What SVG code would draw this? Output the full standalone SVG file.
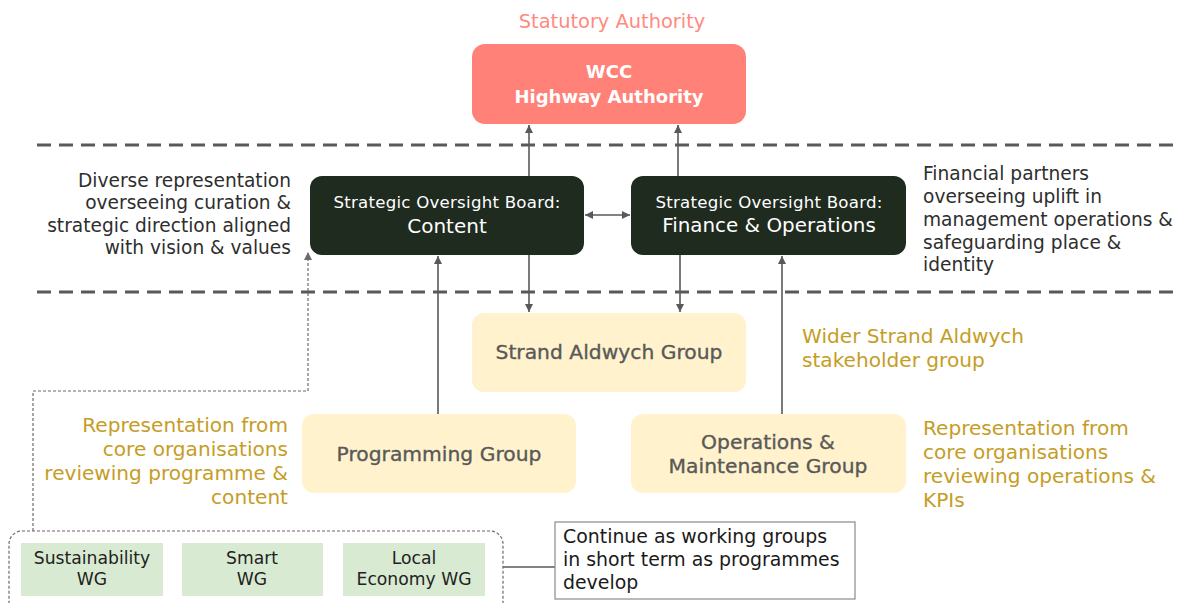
<svg xmlns="http://www.w3.org/2000/svg" width="1189" height="603" viewBox="0 0 1189 603">
  <defs>
    <marker id="arrow" viewBox="0 0 10 10" refX="10" refY="5" markerWidth="8" markerHeight="8" markerUnits="userSpaceOnUse" orient="auto-start-reverse">
      <path d="M0,0 L10,5 L0,10 z" fill="#595959"/>
    </marker>
    <marker id="arrow-dot" viewBox="0 0 10 10" refX="10" refY="5" markerWidth="8" markerHeight="8" markerUnits="userSpaceOnUse" orient="auto">
      <path d="M0,0 L10,5 L0,10 z" fill="#6b6b6b"/>
    </marker>
  </defs>
  <style>
    text { font-family: "DejaVu Sans", "Noto Sans", "Liberation Sans", sans-serif; }
    .tier { stroke: #595959; stroke-width: 3; stroke-dasharray: 14 8; fill: none; }
    .link { stroke: #595959; stroke-width: 1.6; fill: none; }
    .dotted { stroke: #6b6b6b; stroke-width: 1.2; stroke-dasharray: 3 2; fill: none; }
    .authority { fill: #FF8178; }
    .board { fill: #1F2B1F; }
    .group { fill: #FFF2CC; }
    .wg { fill: #D9EAD3; }
    .t-white { fill: #ffffff; text-anchor: middle; }
    .t-group { fill: #595959; stroke: #595959; stroke-width: 0.35; font-size: 20.3px; text-anchor: middle; }
    .t-desc { fill: #2E2E2E; font-size: 18.6px; }
    .t-gold { fill: #C59D25; font-size: 20.1px; }
    .t-wg { fill: #222222; font-size: 17.2px; text-anchor: middle; }
    .t-note { fill: #1a1a1a; font-size: 18.9px; }
  </style>

  <!-- tier separators -->
  <g id="tiers">
    <line class="tier" x1="37" y1="145" x2="1180" y2="145"/>
    <line class="tier" x1="37" y1="292" x2="1180" y2="292"/>
  </g>

  <!-- connectors -->
  <g id="connectors">
    <line class="link" x1="529" y1="176" x2="529" y2="125" marker-end="url(#arrow)"/>
    <line class="link" x1="678" y1="176" x2="678" y2="125" marker-end="url(#arrow)"/>
    <line class="link" x1="585" y1="215" x2="630" y2="215" marker-start="url(#arrow)" marker-end="url(#arrow)"/>
    <line class="link" x1="529" y1="255" x2="529" y2="312" marker-end="url(#arrow)"/>
    <line class="link" x1="680" y1="255" x2="680" y2="312" marker-end="url(#arrow)"/>
    <line class="link" x1="438" y1="414" x2="438" y2="256" marker-end="url(#arrow)"/>
    <line class="link" x1="782" y1="414" x2="782" y2="256" marker-end="url(#arrow)"/>
    <polyline class="dotted" points="33,531 33,391 308,391 308,252" marker-end="url(#arrow-dot)"/>
    <line class="link" stroke-width="1" x1="503" y1="567" x2="555" y2="567"/>
  </g>

  <!-- statutory authority -->
  <g id="wcc">
    <text x="612" y="28" font-size="19.4" fill="#FF8A80" text-anchor="middle">Statutory Authority</text>
    <rect class="authority" x="472" y="44" width="274" height="80" rx="13"/>
    <text class="t-white" x="609" y="78" font-size="18" font-weight="700">WCC</text>
    <text class="t-white" x="609" y="103" font-size="18" font-weight="700">Highway Authority</text>
  </g>

  <!-- strategic oversight boards -->
  <g id="board-content">
    <rect class="board" x="310" y="176" width="274" height="79" rx="12"/>
    <text class="t-white" x="447" y="208" font-size="16.6" style="letter-spacing:0.25px">Strategic Oversight Board:</text>
    <text class="t-white" x="447" y="233" font-size="20">Content</text>
  </g>
  <g id="board-finance">
    <rect class="board" x="631" y="176" width="275" height="79" rx="12"/>
    <text class="t-white" x="769" y="208" font-size="16.6" style="letter-spacing:0.25px">Strategic Oversight Board:</text>
    <text class="t-white" x="769" y="232" font-size="19.9">Finance &amp; Operations</text>
  </g>

  <g id="note-content">
    <text class="t-desc" text-anchor="end" x="291" y="187">Diverse representation</text>
    <text class="t-desc" text-anchor="end" x="291" y="209">overseeing curation &amp;</text>
    <text class="t-desc" text-anchor="end" x="291" y="232">strategic direction aligned</text>
    <text class="t-desc" text-anchor="end" x="291" y="254">with vision &amp; values</text>
  </g>
  <g id="note-finance">
    <text class="t-desc" x="923" y="180">Financial partners</text>
    <text class="t-desc" x="923" y="203">overseeing uplift in</text>
    <text class="t-desc" x="923" y="226">management operations &amp;</text>
    <text class="t-desc" x="923" y="249">safeguarding place &amp;</text>
    <text class="t-desc" x="923" y="271">identity</text>
  </g>

  <!-- groups -->
  <g id="strand-aldwych">
    <rect class="group" x="472" y="313" width="274" height="79" rx="12"/>
    <text class="t-group" x="609" y="359">Strand Aldwych Group</text>
  </g>
  <g id="note-strand">
    <text class="t-gold" x="802" y="343">Wider Strand Aldwych</text>
    <text class="t-gold" x="802" y="367">stakeholder group</text>
  </g>

  <g id="programming">
    <rect class="group" x="302" y="414" width="274" height="79" rx="12"/>
    <text class="t-group" x="439" y="461">Programming Group</text>
  </g>
  <g id="note-programming">
    <text class="t-gold" text-anchor="end" x="288" y="432">Representation from</text>
    <text class="t-gold" text-anchor="end" x="288" y="456">core organisations</text>
    <text class="t-gold" text-anchor="end" x="288" y="480">reviewing programme &amp;</text>
    <text class="t-gold" text-anchor="end" x="288" y="504">content</text>
  </g>

  <g id="operations">
    <rect class="group" x="631" y="414" width="275" height="79" rx="12"/>
    <text class="t-group" x="768" y="449">Operations &amp;</text>
    <text class="t-group" x="768" y="473">Maintenance Group</text>
  </g>
  <g id="note-operations">
    <text class="t-gold" x="923" y="435">Representation from</text>
    <text class="t-gold" x="923" y="459">core organisations</text>
    <text class="t-gold" x="923" y="483">reviewing operations &amp;</text>
    <text class="t-gold" x="923" y="507">KPIs</text>
  </g>

  <!-- working groups -->
  <g id="working-groups">
    <rect x="9" y="531" width="494" height="90" rx="13" fill="none" stroke="#6b6b6b" stroke-width="1.2" stroke-dasharray="3 2"/>
    <rect class="wg" x="21" y="543" width="142" height="53"/>
    <text class="t-wg" x="92" y="564">Sustainability</text>
    <text class="t-wg" x="92" y="585">WG</text>
    <rect class="wg" x="182" y="543" width="141" height="53"/>
    <text class="t-wg" x="252" y="564">Smart</text>
    <text class="t-wg" x="252" y="585">WG</text>
    <rect class="wg" x="343" y="543" width="142" height="53"/>
    <text class="t-wg" x="414" y="564">Local</text>
    <text class="t-wg" x="414" y="585">Economy WG</text>
  </g>

  <g id="note-working-groups">
    <rect x="555" y="522" width="300" height="77" fill="#ffffff" stroke="#8a8a8a" stroke-width="1.2"/>
    <text class="t-note" x="563" y="543">Continue as working groups</text>
    <text class="t-note" x="563" y="566">in short term as programmes</text>
    <text class="t-note" x="563" y="589">develop</text>
  </g>
</svg>
